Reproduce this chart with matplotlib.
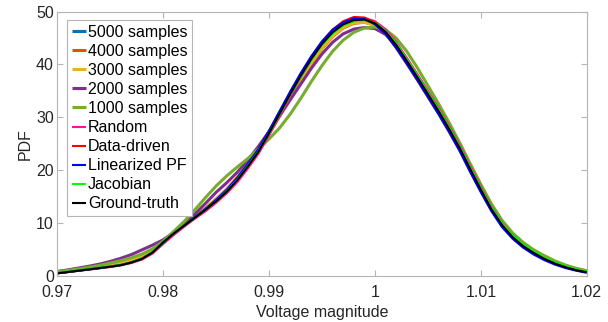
import numpy as np
import matplotlib
matplotlib.use("Agg")
import matplotlib.pyplot as plt

plt.rcParams['font.family'] = ['Liberation Sans', 'DejaVu Sans']

x = np.round(np.arange(0.970, 1.0205, 0.001), 3)

ground_truth = [0.45, 0.7, 0.95, 1.2, 1.45, 1.7, 2.0, 2.5, 3.2, 4.4,
                6.3, 8.0, 9.5, 11.0, 12.5, 14.1, 15.9, 18.1, 20.7, 23.5,
                27.0, 30.7, 34.4, 37.9, 41.1, 43.9, 46.1, 47.6, 48.4, 48.5,
                47.8, 46.2, 43.7, 40.7, 37.6, 34.4, 31.2, 27.8, 24.2, 20.2,
                16.3, 12.6, 9.6, 7.3, 5.6, 4.3, 3.2, 2.3, 1.6, 1.05, 0.65]
jacobian = [0.5, 0.75, 1.0, 1.25, 1.5, 1.75, 2.05, 2.55, 3.25, 4.45,
            6.3, 8.0, 9.5, 11.0, 12.5, 14.1, 16.0, 18.2, 20.8, 23.6,
            27.0, 30.6, 34.3, 37.7, 40.9, 43.7, 45.9, 47.4, 48.2, 48.4,
            47.9, 46.4, 44.0, 41.0, 37.9, 34.7, 31.5, 28.1, 24.5, 20.5,
            16.6, 12.9, 9.9, 7.6, 5.9, 4.6, 3.45, 2.5, 1.8, 1.2, 0.8]
linearized_pf = [0.45, 0.7, 0.95, 1.2, 1.45, 1.75, 2.05, 2.55, 3.25, 4.45,
                 6.3, 8.0, 9.5, 11.1, 12.7, 14.4, 16.3, 18.6, 21.2, 24.0,
                 27.5, 31.2, 34.9, 38.4, 41.6, 44.4, 46.6, 48.0, 48.7, 48.6,
                 47.6, 45.8, 43.1, 40.1, 37.0, 33.8, 30.6, 27.2, 23.6, 19.6,
                 15.8, 12.2, 9.2, 7.0, 5.3, 4.0, 2.95, 2.1, 1.45, 0.95, 0.55]
data_driven = [0.45, 0.7, 0.95, 1.2, 1.45, 1.7, 2.0, 2.5, 3.2, 4.4,
               6.3, 8.0, 9.5, 11.0, 12.5, 14.2, 16.1, 18.3, 20.9, 23.8,
               27.3, 31.0, 34.7, 38.2, 41.5, 44.3, 46.6, 48.2, 49.0, 48.9,
               48.0, 46.3, 43.8, 40.8, 37.7, 34.5, 31.3, 27.9, 24.3, 20.3,
               16.4, 12.7, 9.7, 7.4, 5.7, 4.4, 3.3, 2.35, 1.65, 1.1, 0.7]
random_sel = [0.45, 0.68, 0.92, 1.15, 1.4, 1.65, 1.95, 2.4, 3.05, 4.2,
              6.0, 7.7, 9.3, 10.8, 12.2, 13.8, 15.6, 17.7, 20.3, 23.1,
              26.6, 30.3, 34.0, 37.6, 40.9, 43.8, 46.1, 47.7, 48.6, 48.8,
              48.2, 46.7, 44.3, 41.3, 38.2, 35.0, 31.8, 28.4, 24.8, 20.8,
              16.9, 13.1, 10.0, 7.7, 5.9, 4.6, 3.4, 2.45, 1.7, 1.15, 0.75]
s5000 = [0.55, 0.8, 1.05, 1.3, 1.6, 1.9, 2.2, 2.7, 3.4, 4.6,
         6.4, 8.0, 9.6, 11.1, 12.7, 14.4, 16.3, 18.5, 21.0, 23.8,
         27.1, 30.6, 34.1, 37.5, 40.6, 43.4, 45.7, 47.3, 48.1, 48.3,
         47.7, 46.2, 43.7, 40.7, 37.6, 34.4, 31.2, 27.8, 24.2, 20.2,
         16.3, 12.7, 9.7, 7.4, 5.7, 4.4, 3.3, 2.4, 1.7, 1.15, 0.75]
s4000 = [0.6, 0.85, 1.1, 1.35, 1.65, 1.95, 2.3, 2.8, 3.5, 4.7,
         6.4, 8.0, 9.6, 11.2, 12.8, 14.5, 16.4, 18.6, 21.1, 23.8,
         26.9, 30.3, 33.8, 37.1, 40.2, 43.0, 45.3, 46.9, 47.8, 48.0,
         47.5, 46.0, 43.5, 40.5, 37.4, 34.2, 31.0, 27.6, 24.0, 20.1,
         16.2, 12.6, 9.7, 7.4, 5.7, 4.4, 3.3, 2.4, 1.7, 1.15, 0.75]
s3000 = [0.6, 0.85, 1.1, 1.4, 1.7, 2.0, 2.35, 2.85, 3.55, 4.75,
         6.4, 8.0, 9.6, 11.2, 12.8, 14.5, 16.4, 18.6, 21.0, 23.7,
         26.8, 30.2, 33.7, 37.1, 40.3, 43.1, 45.4, 47.0, 47.9, 48.0,
         47.4, 45.8, 43.2, 40.2, 37.1, 33.9, 30.7, 27.3, 23.8, 19.9,
         16.1, 12.5, 9.6, 7.3, 5.6, 4.4, 3.3, 2.4, 1.7, 1.15, 0.75]
s2000 = [0.8, 1.1, 1.45, 1.8, 2.2, 2.7, 3.3, 4.0, 4.9, 5.8,
         6.8, 8.2, 9.8, 11.7, 13.7, 15.8, 17.6, 19.6, 21.9, 24.5,
         27.3, 30.3, 33.3, 36.3, 39.3, 42.0, 44.2, 45.8, 46.7, 47.0,
         46.8, 45.7, 43.6, 40.9, 37.9, 34.8, 31.6, 28.2, 24.6, 20.7,
         16.8, 13.2, 10.2, 7.9, 6.1, 4.7, 3.6, 2.6, 1.9, 1.3, 0.85]
s1000 = [0.75, 1.0, 1.3, 1.6, 1.95, 2.4, 2.85, 3.4, 4.1, 5.1,
         6.5, 8.4, 10.3, 12.5, 14.8, 17.0, 18.9, 20.6, 22.2, 24.0,
         25.9, 28.0, 30.6, 33.6, 36.8, 39.8, 42.5, 44.6, 46.1, 46.9,
         47.1, 46.6, 45.0, 42.5, 39.4, 36.0, 32.6, 29.0, 25.2, 21.2,
         17.3, 13.6, 10.5, 8.1, 6.3, 4.9, 3.8, 2.8, 2.0, 1.4, 0.95]

series = [
    ("5000 samples", s5000, "#0072BD", 2.2),
    ("4000 samples", s4000, "#D95319", 2.2),
    ("3000 samples", s3000, "#EDB120", 2.2),
    ("2000 samples", s2000, "#7E2F8E", 2.2),
    ("1000 samples", s1000, "#77AC30", 2.2),
    ("Random", random_sel, "#FF1493", 1.5),
    ("Data-driven", data_driven, "#FF0000", 1.5),
    ("Linearized PF", linearized_pf, "#0000FF", 1.5),
    ("Jacobian", jacobian, "#00FF00", 1.5),
    ("Ground-truth", ground_truth, "#000000", 1.5),
]

fig = plt.figure(figsize=(6.08, 3.22), dpi=100)
ax = fig.add_axes([57.3 / 608, 46.3 / 322, 529.4 / 608, 264.0 / 322])

for label, y, c, lw in series:
    ax.plot(x, y, color=c, lw=lw, label=label, solid_capstyle='butt',
            solid_joinstyle='round')

ax.set_xlim(0.97, 1.02)
ax.set_ylim(0, 50)
ax.set_xticks([0.97, 0.98, 0.99, 1.0, 1.01, 1.02])
ax.set_xticklabels(["0.97", "0.98", "0.99", "1", "1.01", "1.02"])
ax.set_yticks([0, 10, 20, 30, 40, 50])

fs = 11.5
ax.tick_params(direction='in', top=True, right=True, length=4, width=0.8,
               color='#b5b5b5', labelsize=fs, labelcolor='#262626')
ax.tick_params(axis='x', pad=6.5)
ax.tick_params(axis='y', pad=2.5)
for sp in ax.spines.values():
    sp.set_color('#b5b5b5')
    sp.set_linewidth(0.8)

ax.set_xlabel("Voltage magnitude", fontsize=fs, color='#262626', labelpad=3.5)
ax.set_ylabel("PDF", fontsize=fs, color='#262626', labelpad=2)

leg = ax.legend(loc='upper left', bbox_to_anchor=(9.7 / 529.4, 1 - 8.3 / 264.0),
                borderaxespad=0, fontsize=fs, handlelength=0.9, handletextpad=0.1,
                labelspacing=0.255, borderpad=0.3, frameon=True, fancybox=False,
                edgecolor='#b5b5b5', framealpha=1)
leg.get_frame().set_linewidth(0.8)
for t in leg.get_texts():
    t.set_color('#000000')

fig.savefig("out.png", dpi=100)
